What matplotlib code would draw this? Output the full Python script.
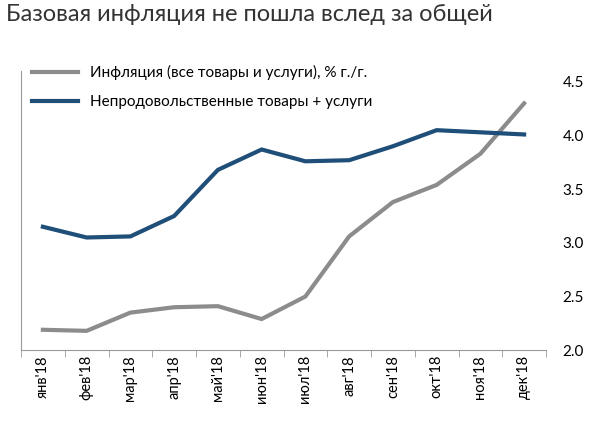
import matplotlib
matplotlib.use("Agg")
import matplotlib.pyplot as plt
import numpy as np

months = ["янв'18","фев'18","мар'18","апр'18","май'18","июн'18","июл'18","авг'18","сен'18","окт'18","ноя'18","дек'18"]
total = [2.19, 2.18, 2.35, 2.40, 2.41, 2.29, 2.50, 3.06, 3.38, 3.54, 3.83, 4.30]
core = [3.15, 3.05, 3.06, 3.25, 3.68, 3.87, 3.76, 3.77, 3.90, 4.05, 4.03, 4.01]
yticks = [2.0, 2.5, 3.0, 3.5, 4.0, 4.5]

plt.rcParams['font.family'] = ['Lato', 'DejaVu Sans']
fig = plt.figure(figsize=(6, 4.26), dpi=100)
ax = fig.add_axes([0.035, 0.178, 0.875, 0.655])
x = np.arange(len(months))
ax.plot(x, total, color='#8c8c8c', lw=3, label='Инфляция (все товары и услуги), % г./г.')
ax.plot(x, core, color='#1f4e79', lw=3, label='Непродовольственные товары + услуги')
ax.set_xlim(-0.5, 11.5)
ax.set_ylim(2.0, 4.6)
ax.set_yticks(yticks)
ax.set_yticklabels([f"{v:.1f}" for v in yticks], fontsize=11)
ax.yaxis.tick_right()
ax.tick_params(axis='y', length=0, pad=12)
ax.set_xticks(x)
ax.set_xticklabels(months, rotation=90, fontsize=10.5)
ax.set_xticks(np.arange(-0.5, 12, 1), minor=True)
ax.tick_params(axis='x', which='major', length=0)
ax.tick_params(axis='x', which='minor', length=5, color='#999999')
for s in ['top', 'right']:
    ax.spines[s].set_visible(False)
ax.spines['left'].set_color('#999999')
ax.spines['bottom'].set_color('#999999')
ax.legend(loc='upper left', frameon=False, fontsize=11, handlelength=3.0,
          bbox_to_anchor=(0.0, 1.06), labelspacing=1.0, borderaxespad=0.3)
fig.text(0.01, 0.95, 'Базовая инфляция не пошла вслед за общей', fontsize=17, color='#333333')
fig.savefig('out.png', dpi=100)
